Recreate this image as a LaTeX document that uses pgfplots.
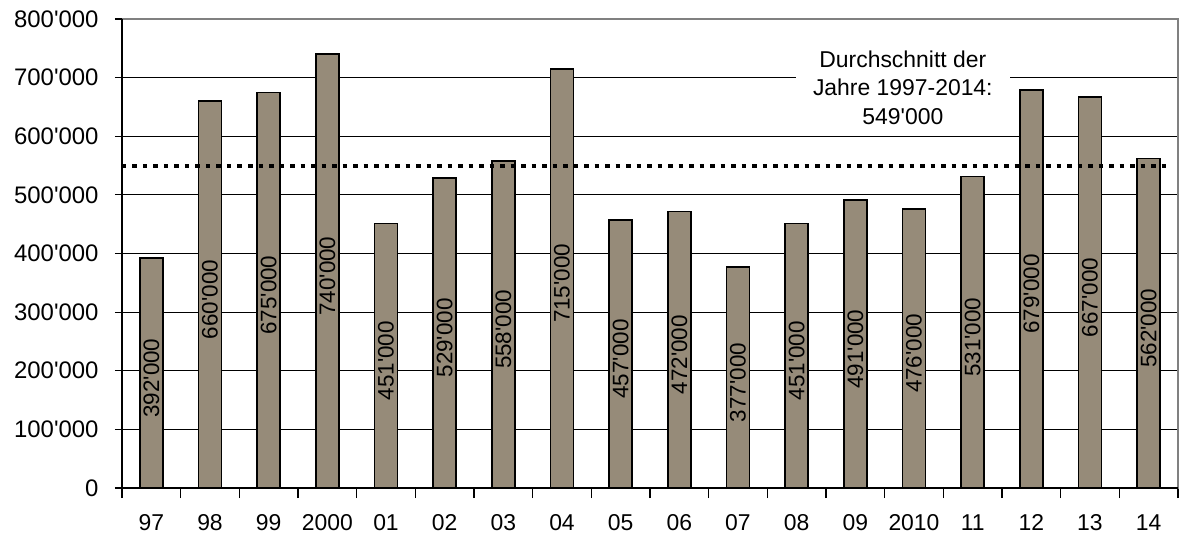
\documentclass[border=0pt]{standalone}
\usepackage{pgfplots}
\pgfplotsset{compat=1.18}
\usepackage{pgfplotstable}
\usepackage{fontspec}
\setmainfont{Liberation Sans}[Ligatures=TeXOff]

\definecolor{barfill}{RGB}{150,139,121}
\definecolor{frame}{RGB}{128,128,128}

\pgfplotstableread{
x v lab
0 392000 392'000
1 660000 660'000
2 675000 675'000
3 740000 740'000
4 451000 451'000
5 529000 529'000
6 558000 558'000
7 715000 715'000
8 457000 457'000
9 472000 472'000
10 377000 377'000
11 451000 451'000
12 491000 491'000
13 476000 476'000
14 531000 531'000
15 679000 679'000
16 667000 667'000
17 562000 562'000
}\data

\begin{document}
\begin{tikzpicture}
\useasboundingbox (-122bp,-47bp) rectangle (1059bp,488bp);
\begin{axis}[
  scale only axis, width=1056bp, height=469bp,
  xmin=-0.5, xmax=17.5, ymin=0, ymax=800000,
  axis line style={draw=frame, line width=1.2bp},
  xtick={0,...,17},
  xticklabels={97,98,99,2000,01,02,03,04,05,06,07,08,09,2010,11,12,13,14},
  major x tick style={draw=none},
  minor xtick={-0.5,0.5,...,17.5},
  ytick={0,100000,...,700000},
  yticklabels={0,100'000,200'000,300'000,400'000,500'000,600'000,700'000},
  scaled y ticks=false,
  extra y ticks={800000}, extra y tick labels={800'000},
  extra y tick style={grid style={draw=frame}},
  ymajorgrids, grid style={black, line width=1.2bp},
  tick align=outside, xtick pos=bottom, ytick pos=left,
  major tick length=7bp, minor tick length=10bp,
  tick style={black, line width=1.2bp},
  xticklabel style={font=\fontsize{23}{27}\selectfont, yshift=-16bp},
  yticklabel style={font=\fontsize{24}{27}\selectfont, anchor=east, xshift=-13bp},
  /pgf/number format/assume math mode=true,
  clip=false,
]
\addplot[ybar, bar width=23bp, bar shift=0pt, fill=barfill, draw=black, line width=1.4bp]
  table[x=x, y=v] {\data};
\addplot[draw=none, mark=none, nodes near coords, point meta=explicit symbolic,
  nodes near coords style={rotate=90, anchor=center, inner sep=0pt,
    font=\fontsize{22.5}{27}\selectfont}]
  table[x=x, y expr=\thisrow{v}/2-8500, meta=lab] {\data};
\addplot[black, line width=4bp, dash pattern=on 4.5bp off 6bp]
  coordinates {(-0.5,549000) (17.33,549000)};
\node[fill=white, align=center, inner xsep=17bp, inner ysep=2bp,
  font=\fontsize{23}{28.5}\selectfont] at (axis cs:12.81,683000)
  {Durchschnitt der\\Jahre 1997-2014:\\549'000};
\draw[black, line width=1.2bp] (rel axis cs:0,1) -- (rel axis cs:0,0) -- (rel axis cs:1,0);
\end{axis}
\end{tikzpicture}
\end{document}
